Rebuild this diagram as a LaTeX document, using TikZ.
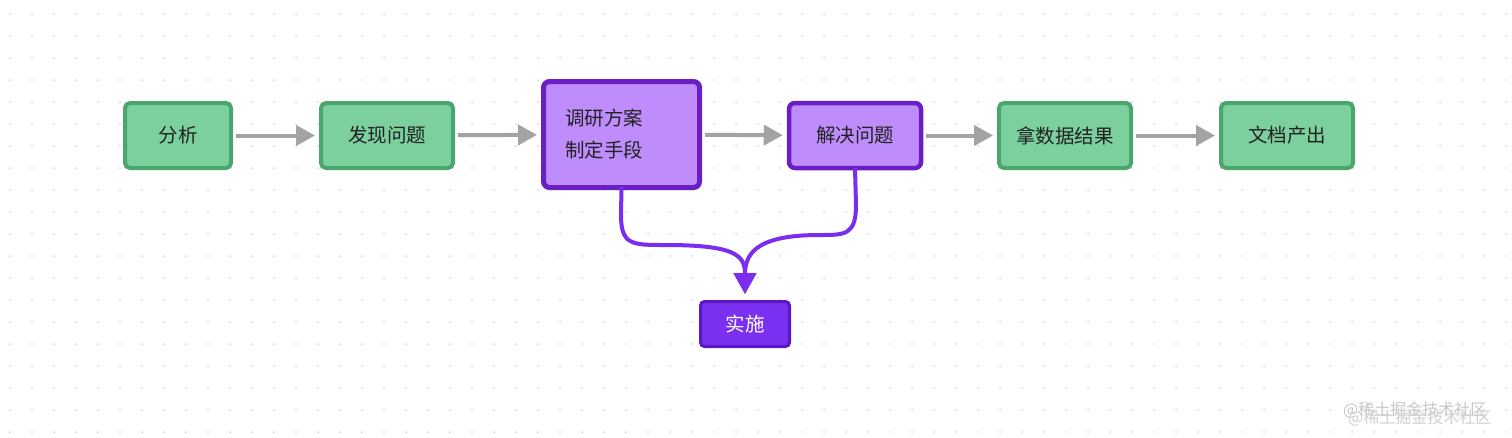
\documentclass[tikz,border=0pt]{standalone}
\usepackage{fontspec}
\newfontfamily\cjk{Noto Sans CJK SC}
\usetikzlibrary{arrows.meta}
\definecolor{gfill}{HTML}{7CD09E}
\definecolor{gline}{HTML}{4AA66C}
\definecolor{pfill}{HTML}{BF8CFC}
\definecolor{pline}{HTML}{6A1FC6}
\definecolor{sfill}{HTML}{7B2FF0}
\definecolor{sline}{HTML}{5C18C2}
\definecolor{parrow}{HTML}{7A2CF0}
\definecolor{garrow}{HTML}{A3A3A3}
\definecolor{dotc}{HTML}{D6D6D6}
\definecolor{txt}{HTML}{222222}
\begin{document}
\begin{tikzpicture}[x=1pt,y=-1pt,
  every node/.style={inner sep=0pt,font=\cjk\fontsize{19.5}{32}\selectfont,text=txt},
  gbox/.style={draw=gline,fill=gfill,line width=4pt,rounded corners=5pt,minimum width=132pt,minimum height=65pt},
  pbox/.style={draw=pline,fill=pfill,line width=4.5pt,rounded corners=6pt,minimum width=132pt,minimum height=65pt},
  sbox/.style={draw=sline,fill=sfill,line width=3pt,rounded corners=4pt,minimum width=89pt,minimum height=45pt,text=white},
  garr/.style={draw=garrow,line width=4pt,-{Triangle[length=19pt,width=20pt]},shorten <=3pt,shorten >=4pt},
  parr/.style={draw=parrow,line width=4pt,-{Triangle[length=21pt,width=22pt]}}]
\useasboundingbox (0,0) rectangle (1512,437);
\fill[white] (0,0) rectangle (1512,437);
\foreach \i in {0,...,68}{\foreach \j in {0,...,19}{\fill[dotc] (10+22*\i,14+22*\j) circle (1pt);}}
\node[gbox,minimum width=106pt] (a) at (178,135.5) {分析};
\node[gbox] (b) at (387,135.5) {发现问题};
\node[pbox,line width=5pt,minimum width=156pt,minimum height=106pt,text width=113pt,align=left] (c) at (621.5,134.5) {调研方案\\制定手段};
\node[pbox] (d) at (855,135.5) {解决问题};
\node[gbox] (e) at (1065,135.5) {拿数据结果};
\node[gbox] (f) at (1287,135.5) {文档产出};
\node[sbox] (s) at (745,324) {实施};
\coordinate (t) at (745,294);
\draw[garr] (a) -- (b);
\draw[garr] (b) -- (c);
\draw[garr] (c) -- (d);
\draw[garr] (d) -- (e);
\draw[garr] (e) -- (f);
\draw[parr] ([yshift=3pt]c.south) -- (621,215) .. controls (621,245) and (632,245) .. (665,245) .. controls (735,245) and (745,255) .. (t);
\draw[parr] ([yshift=2pt]d.south) -- (856,205) .. controls (856,235) and (845,235) .. (820,235) .. controls (762,235) and (745,250) .. (t);
\node[font=\cjk\fontsize{16}{16}\selectfont,text=black!22,anchor=west] (w1) at (1343,410) {@稀土掘金技术社区};
\node[font=\cjk\fontsize{16}{16}\selectfont,text=black!18,anchor=west] (w2) at (1348,418) {@稀土掘金技术社区};
\end{tikzpicture}
\end{document}
